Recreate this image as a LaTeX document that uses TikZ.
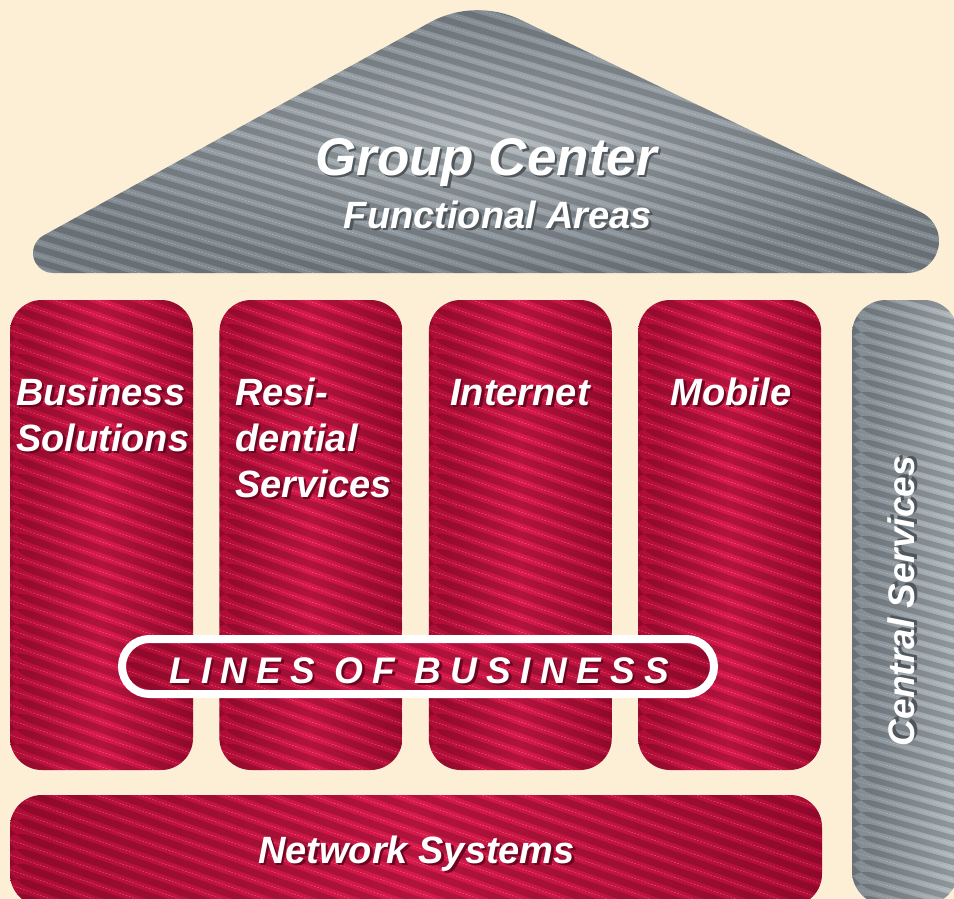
\documentclass[tikz,border=0pt]{standalone}
\usepackage{fontspec}
\setmainfont{Liberation Sans}
\usetikzlibrary{positioning,calc}

\definecolor{paper}{HTML}{FDEFD6}
\definecolor{lobred}{HTML}{C6123D}
\definecolor{lobredlight}{HTML}{D8194B}
\definecolor{lobreddark}{HTML}{AE0C35}
\definecolor{steel}{HTML}{98A1A7}
\definecolor{steellight}{HTML}{B3BBC0}
\definecolor{steeldark}{HTML}{808990}
\definecolor{redshadow}{HTML}{6E0520}
\definecolor{steelshadow}{HTML}{4F575C}

% diagonal ribbing, drawn inside a path picture
% #1 slope, #2 period, #3..#4 range of ribs
\newcommand{\ribs}[4]{%
  \foreach \k in {#3,...,#4}{
    \fill[rib dark] ($(path picture bounding box.north west)+(-10,\k*#2)$)
      -- ++(1000,1000*#1) -- ++(0,0.5*#2) -- ++(-1000,-1000*#1) -- cycle;
    \draw[rib line] ($(path picture bounding box.north west)+(-10,\k*#2+0.75*#2)$)
      -- ++(1000,1000*#1);
  }}

% white lettering with a dark drop shadow
\newcommand{\raised}[2][redshadow]{\leavevmode\rlap{\hspace{2.5pt}\raisebox{-2.5pt}{\textcolor{#1}{#2}}}#2}

\begin{document}
\begin{tikzpicture}[
  x=1pt, y=-1pt,
  rib dark/.style={fill=black, fill opacity=0.18},
  rib line/.style={draw=white, draw opacity=0.3, line width=0.5,
    dash pattern=on 2pt off 1.5pt},
  redpart/.style={
    rectangle, rounded corners=32, inner sep=0,
    shading=axis, shading angle=90,
    left color=lobreddark, right color=lobreddark, middle color=lobredlight
  },
  pillar/.style={redpart, minimum width=183, minimum height=470,
    path picture={\ribs{0.35}{15}{-6}{32}}},
  steelpart/.style={
    shading=axis, shading angle=90,
    left color=steeldark, right color=steellight, middle color=steel
  },
  label/.style={text=white, inner sep=0,
    font=\fontsize{38}{46}\selectfont\bfseries\itshape, align=left},
  title/.style={text=white, inner sep=0, font=\bfseries\itshape},
]
\useasboundingbox (0,0) rectangle (954,899);
\clip (0,0) rectangle (954,899);
\fill[paper] (0,0) rectangle (954,899);

% ── Roof ──
\path[steelpart, inner color=steellight, outer color=steeldark,
      path picture={\ribs{0.30}{13}{-24}{23}}]
  (53,273) -- (907,273)
  arc[start angle=90, end angle=-64.4, radius=32]
  -- (521,20)
  arc[start angle=-64.4, end angle=-118.8, radius=100]
  -- (43.4,235.5)
  arc[start angle=241.2, end angle=90, radius=20]
  -- cycle;

\node[title, anchor=base, font=\fontsize{53}{60}\selectfont\bfseries\itshape]
  (groupcenter) at (486,175) {\raised[steelshadow]{Group Center}};
\node[title, anchor=base, font=\fontsize{38}{44}\selectfont\bfseries\itshape]
  (functional) at (498,228) {\raised[steelshadow]{Functional Areas}};

% ── Pillars ──
\node[pillar] (bizsol) at (101.5,535) {};
\node[pillar, right=26pt of bizsol] (resid) {};
\node[pillar, right=26pt of resid] (internet) {};
\node[pillar, right=26pt of internet] (mobile) {};

\node[rounded corners=34, minimum width=106, minimum height=605, inner sep=0,
      steelpart, path picture={\ribs{0.28}{12}{-4}{52}}]
  (central) at (905,602.5) {};

\node[redpart, minimum width=812, minimum height=111,
      path picture={\ribs{0.35}{15}{-20}{8}}]
  (network) at (416,850.5) {};

% ── Labels ──
\node[label, anchor=base west] (bizsoltext) at (16,451)
  {\raised{Business}\\\raised{Solutions}};
\node[label, anchor=base west] (residtext) at (235,497)
  {\raised{Resi-}\\\raised{dential}\\\raised{Services}};
\node[label, anchor=base] (internettext) at (520,405) {\raised{Internet}};
\node[label, anchor=base] (mobiletext) at (731,405) {\raised{Mobile}};
\node[label, anchor=base] (networktext) at (416.5,863) {\raised{Network Systems}};
\node[label, rotate=90, font=\fontsize{37}{44}\selectfont\bfseries\itshape]
  (centraltext) at (903,601) {\raised[steelshadow]{Central Services}};

% ── Lines of business band ──
\node[redpart, rounded corners=27.5, minimum width=592, minimum height=55,
      draw=white, line width=8, path picture={\ribs{0.35}{15}{-15}{4}}]
  (lob) at (418,666.5) {};
\node[label, anchor=base, font=\fontsize{37}{44}\selectfont\bfseries\itshape
      \addfontfeature{LetterSpace=25}]
  (lobtext) at (419,683) {\raised{LINES OF BUSINESS}};
\end{tikzpicture}
\end{document}
